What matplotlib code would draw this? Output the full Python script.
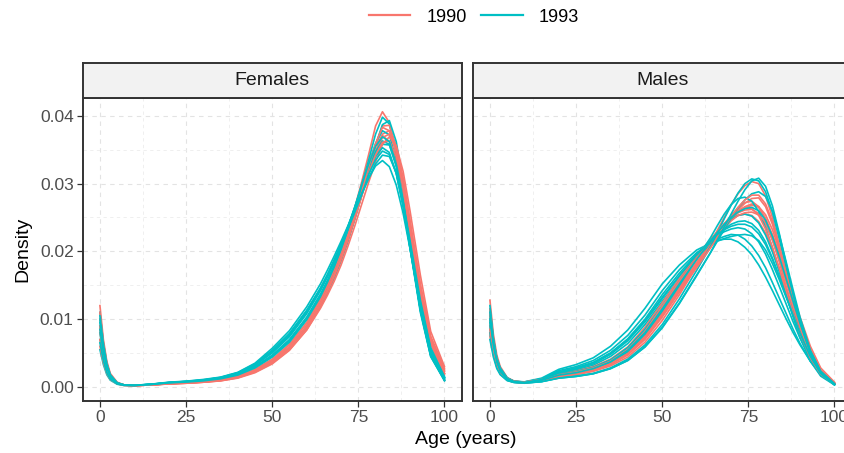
import numpy as np
import matplotlib
matplotlib.use("Agg")
import matplotlib.pyplot as plt
from matplotlib.lines import Line2D

plt.rcParams['font.family'] = ['Liberation Sans', 'DejaVu Sans']

# age grid (years) on which each density curve was read
ages = [0, 1, 2, 3, 5, 7, 10, 15, 20, 25, 30, 35, 40, 45, 50, 55, 60, 64, 66, 68,
        70, 72, 74, 76, 78, 80, 82, 84, 86, 88, 90, 93, 96, 100]

years = ['1990', '1993']
sexes = ['Females', 'Males']
year_colors = {'1990': '#F8766D', '1993': '#00BFC4'}

# densities in units of 0.001
fem_1990 = [
    [12, 7, 3.8, 2.0, 0.7, 0.3, 0.2, 0.3, 0.45, 0.55, 0.7, 0.95, 1.4, 2.3, 3.7, 5.8, 9.0, 12.5, 14.6, 17.0, 19.8, 23.0, 26.5, 30.3, 34.3, 38.5, 40.6, 39.0, 34.5, 28.0, 21.0, 11.5, 4.8, 1.0],
    [8, 4.8, 2.6, 1.4, 0.5, 0.25, 0.2, 0.3, 0.45, 0.55, 0.7, 0.9, 1.3, 2.1, 3.4, 5.4, 8.4, 11.8, 13.8, 16.0, 18.6, 21.5, 24.8, 28.3, 32.0, 35.6, 38.5, 38.6, 35.5, 30.0, 23.5, 14.0, 6.5, 2.0],
    [10, 6, 3.2, 1.7, 0.6, 0.3, 0.2, 0.3, 0.5, 0.6, 0.75, 1.0, 1.45, 2.3, 3.6, 5.6, 8.6, 12.0, 14.0, 16.3, 18.8, 21.7, 24.9, 28.2, 31.6, 34.8, 37.3, 37.8, 35.5, 30.8, 24.5, 15.0, 7.2, 2.5],
    [7, 4.2, 2.3, 1.3, 0.5, 0.25, 0.2, 0.3, 0.5, 0.6, 0.75, 1.0, 1.5, 2.4, 3.8, 5.9, 9.0, 12.4, 14.4, 16.6, 19.1, 21.9, 25.0, 28.3, 31.5, 34.5, 36.8, 37.3, 35.0, 30.5, 24.5, 15.2, 7.5, 2.7],
    [9, 5.4, 2.9, 1.6, 0.55, 0.28, 0.22, 0.32, 0.5, 0.6, 0.78, 1.05, 1.55, 2.5, 4.0, 6.2, 9.4, 12.9, 15.0, 17.4, 20.0, 23.0, 26.2, 29.6, 32.8, 35.6, 37.1, 36.2, 33.0, 28.0, 22.0, 13.5, 6.5, 2.0],
    [6, 3.6, 2.0, 1.1, 0.45, 0.22, 0.2, 0.3, 0.45, 0.55, 0.7, 0.9, 1.35, 2.2, 3.5, 5.5, 8.4, 11.6, 13.5, 15.6, 18.0, 20.8, 23.8, 27.0, 30.2, 33.2, 35.8, 36.9, 35.6, 31.8, 26.0, 16.5, 8.2, 3.0],
    [11, 6.5, 3.5, 1.8, 0.6, 0.3, 0.22, 0.32, 0.5, 0.62, 0.8, 1.1, 1.6, 2.6, 4.1, 6.3, 9.5, 13.0, 15.0, 17.3, 19.8, 22.6, 25.6, 28.7, 31.6, 34.2, 36.1, 36.3, 34.0, 29.6, 23.6, 14.6, 7.0, 2.3],
    [8.5, 5.0, 2.7, 1.5, 0.55, 0.27, 0.2, 0.3, 0.48, 0.58, 0.74, 1.0, 1.45, 2.35, 3.75, 5.8, 8.9, 12.3, 14.3, 16.6, 19.2, 22.1, 25.4, 28.9, 32.5, 35.9, 38.3, 37.8, 34.6, 29.5, 23.0, 13.8, 6.3, 1.8],
]

fem_1993 = [
    [11, 6.5, 3.5, 1.8, 0.6, 0.3, 0.22, 0.35, 0.55, 0.65, 0.8, 1.05, 1.5, 2.4, 3.8, 5.8, 8.9, 12.3, 14.4, 16.8, 19.5, 22.6, 26.0, 29.7, 33.5, 37.3, 39.8, 38.8, 34.5, 28.0, 21.0, 11.3, 4.5, 0.9],
    [9, 5.4, 2.9, 1.55, 0.55, 0.28, 0.22, 0.35, 0.55, 0.65, 0.8, 1.05, 1.5, 2.4, 3.8, 5.8, 8.8, 12.0, 14.0, 16.2, 18.7, 21.6, 24.8, 28.3, 32.0, 35.7, 38.7, 39.3, 36.2, 30.0, 22.5, 12.0, 4.8, 1.0],
    [7, 4.2, 2.3, 1.3, 0.5, 0.26, 0.22, 0.38, 0.6, 0.75, 0.95, 1.3, 1.9, 3.0, 4.7, 7.0, 10.3, 13.7, 15.7, 18.0, 20.6, 23.5, 26.6, 29.9, 33.0, 35.9, 37.8, 37.2, 33.5, 27.5, 20.5, 11.0, 4.5, 1.0],
    [10, 6, 3.2, 1.7, 0.6, 0.3, 0.24, 0.4, 0.65, 0.8, 1.0, 1.35, 2.0, 3.2, 5.0, 7.4, 10.8, 14.2, 16.2, 18.5, 21.0, 23.7, 26.6, 29.5, 32.3, 34.7, 36.3, 35.8, 32.5, 27.0, 20.5, 11.4, 4.8, 1.1],
    [5.5, 3.3, 1.8, 1.0, 0.4, 0.22, 0.2, 0.35, 0.6, 0.72, 0.9, 1.2, 1.8, 2.9, 4.5, 6.8, 10.0, 13.4, 15.4, 17.6, 20.0, 22.7, 25.6, 28.6, 31.4, 34.0, 35.8, 35.7, 32.8, 27.6, 21.2, 12.0, 5.2, 1.3],
    [8, 4.8, 2.6, 1.4, 0.5, 0.27, 0.22, 0.38, 0.62, 0.78, 1.0, 1.35, 2.0, 3.2, 5.2, 7.6, 11.0, 14.4, 16.4, 18.6, 21.0, 23.6, 26.4, 29.2, 31.8, 34.0, 35.3, 34.6, 31.5, 26.5, 20.5, 11.8, 5.2, 1.3],
    [9.5, 5.7, 3.1, 1.65, 0.58, 0.3, 0.24, 0.4, 0.66, 0.82, 1.05, 1.4, 2.1, 3.4, 5.4, 7.9, 11.3, 14.6, 16.6, 18.8, 21.1, 23.6, 26.2, 28.9, 31.4, 33.5, 34.8, 34.3, 31.5, 26.8, 21.0, 12.3, 5.5, 1.4],
    [6.5, 3.9, 2.1, 1.15, 0.45, 0.25, 0.22, 0.38, 0.64, 0.8, 1.0, 1.38, 2.05, 3.3, 5.3, 7.8, 11.2, 14.5, 16.4, 18.5, 20.8, 23.3, 25.8, 28.4, 30.8, 32.9, 34.2, 34.0, 31.6, 27.2, 21.6, 12.8, 5.8, 1.5],
    [8.5, 5.1, 2.8, 1.5, 0.55, 0.28, 0.24, 0.42, 0.7, 0.85, 1.1, 1.45, 2.15, 3.5, 5.7, 8.3, 11.8, 15.2, 17.2, 19.3, 21.5, 23.8, 26.2, 28.6, 30.8, 32.6, 33.4, 32.5, 29.8, 25.6, 20.4, 12.3, 5.6, 1.4],
    [10.5, 6.3, 3.4, 1.8, 0.6, 0.3, 0.23, 0.38, 0.6, 0.72, 0.9, 1.2, 1.75, 2.8, 4.4, 6.6, 9.9, 13.3, 15.4, 17.7, 20.3, 23.2, 26.4, 29.8, 32.9, 35.5, 36.9, 36.2, 32.8, 27.3, 20.8, 11.4, 4.7, 1.0],
]

male_1990 = [
    [12.8, 7.8, 4.7, 3.0, 1.4, 0.85, 0.65, 0.9, 1.5, 1.8, 2.3, 3.1, 4.4, 6.6, 9.8, 13.6, 17.8, 21.2, 23.1, 25.0, 26.9, 28.5, 29.7, 30.3, 30.0, 28.2, 25.0, 20.8, 16.4, 12.2, 8.5, 4.2, 1.7, 0.4],
    [9, 5.6, 3.4, 2.2, 1.1, 0.75, 0.62, 0.95, 1.65, 2.0, 2.6, 3.5, 5.0, 7.5, 11.0, 14.8, 18.4, 21.2, 22.6, 24.0, 25.3, 26.4, 27.2, 27.4, 26.6, 24.6, 21.8, 18.4, 14.8, 11.3, 8.1, 4.3, 1.8, 0.4],
    [11.5, 7.0, 4.2, 2.7, 1.3, 0.8, 0.65, 0.95, 1.6, 1.95, 2.5, 3.4, 4.8, 7.2, 10.5, 14.2, 17.8, 20.6, 22.0, 23.5, 24.9, 26.1, 27.1, 27.8, 27.9, 26.6, 24.0, 20.5, 16.6, 12.8, 9.2, 5.0, 2.2, 0.5],
    [8, 5.0, 3.1, 2.0, 1.05, 0.72, 0.62, 0.98, 1.75, 2.15, 2.8, 3.8, 5.5, 8.2, 11.8, 15.4, 18.8, 21.5, 22.8, 24.0, 25.0, 25.7, 26.1, 26.2, 25.6, 24.0, 21.6, 18.7, 15.5, 12.3, 9.1, 5.1, 2.3, 0.6],
    [10, 6.2, 3.8, 2.4, 1.2, 0.8, 0.68, 1.0, 1.7, 2.05, 2.6, 3.5, 5.0, 7.5, 10.9, 14.6, 18.2, 20.9, 22.2, 23.5, 24.7, 25.7, 26.4, 26.8, 26.6, 25.4, 23.2, 20.2, 16.8, 13.4, 9.9, 5.6, 2.5, 0.6],
    [11, 6.8, 4.1, 2.6, 1.3, 0.85, 0.72, 1.1, 1.9, 2.35, 3.0, 4.1, 5.9, 8.8, 12.4, 16.0, 19.3, 21.8, 22.9, 23.9, 24.7, 25.3, 25.5, 25.3, 24.4, 22.7, 20.3, 17.5, 14.5, 11.5, 8.6, 4.9, 2.2, 0.5],
    [7.5, 4.7, 2.9, 1.9, 1.0, 0.7, 0.6, 0.92, 1.6, 1.95, 2.5, 3.4, 4.9, 7.4, 10.8, 14.5, 18.0, 20.8, 22.2, 23.6, 24.9, 25.9, 26.6, 27.0, 26.5, 24.9, 22.4, 19.2, 15.8, 12.4, 9.0, 4.9, 2.1, 0.5],
    [9.5, 5.9, 3.6, 2.3, 1.15, 0.78, 0.66, 0.98, 1.65, 2.0, 2.55, 3.45, 4.9, 7.3, 10.6, 14.3, 18.0, 20.8, 22.1, 23.4, 24.5, 25.3, 25.7, 25.8, 25.4, 24.3, 22.4, 19.8, 16.8, 13.6, 10.3, 6.0, 2.8, 0.7],
    [10.8, 6.6, 4.0, 2.5, 1.25, 0.82, 0.7, 1.05, 1.8, 2.2, 2.8, 3.8, 5.5, 8.2, 11.9, 15.6, 19.0, 21.6, 22.9, 24.1, 25.2, 26.0, 26.5, 26.3, 25.3, 23.3, 20.6, 17.4, 14.1, 10.9, 7.9, 4.3, 1.9, 0.4],
    [8.5, 5.3, 3.2, 2.1, 1.05, 0.72, 0.6, 0.9, 1.55, 1.9, 2.4, 3.3, 4.7, 7.0, 10.3, 14.0, 17.6, 20.5, 22.0, 23.6, 25.1, 26.5, 27.6, 28.3, 28.3, 27.0, 24.4, 20.8, 16.8, 12.8, 9.0, 4.7, 2.0, 0.5],
]

male_1993 = [
    [11.5, 7.0, 4.2, 2.7, 1.3, 0.85, 0.75, 1.3, 2.6, 3.3, 4.3, 6.0, 8.4, 11.6, 15.2, 18.0, 20.2, 21.2, 21.6, 21.8, 21.8, 21.4, 20.6, 19.5, 18.0, 16.2, 14.2, 12.1, 10.0, 8.0, 6.2, 3.8, 1.9, 0.5],
    [10, 6.2, 3.7, 2.4, 1.2, 0.8, 0.72, 1.2, 2.4, 3.0, 3.9, 5.4, 7.6, 10.6, 14.2, 17.3, 19.8, 21.2, 21.8, 22.2, 22.5, 22.4, 21.8, 20.8, 19.4, 17.6, 15.4, 13.1, 10.8, 8.5, 6.4, 3.8, 1.8, 0.4],
    [8.5, 5.3, 3.2, 2.1, 1.05, 0.72, 0.65, 1.1, 2.2, 2.8, 3.6, 5.0, 7.0, 9.8, 13.2, 16.4, 19.2, 20.9, 21.5, 21.9, 22.2, 22.4, 22.5, 22.3, 21.6, 20.2, 18.2, 15.8, 13.2, 10.6, 8.1, 4.8, 2.3, 0.5],
    [11, 6.7, 4.0, 2.6, 1.25, 0.82, 0.72, 1.15, 2.2, 2.8, 3.6, 5.0, 7.1, 10.0, 13.6, 16.8, 19.6, 21.5, 22.3, 22.9, 23.3, 23.5, 23.3, 22.6, 21.4, 19.6, 17.3, 14.8, 12.2, 9.6, 7.2, 4.2, 2.0, 0.4],
    [9, 5.6, 3.4, 2.2, 1.1, 0.75, 0.65, 1.05, 2.0, 2.5, 3.2, 4.5, 6.4, 9.2, 12.6, 16.0, 19.2, 21.5, 22.5, 23.3, 24.0, 24.4, 24.5, 24.1, 23.1, 21.4, 19.0, 16.3, 13.4, 10.6, 7.9, 4.5, 2.0, 0.4],
    [12, 7.2, 4.3, 2.8, 1.35, 0.85, 0.7, 1.05, 1.9, 2.3, 2.9, 4.0, 5.8, 8.5, 12.0, 15.6, 19.0, 21.6, 22.8, 23.9, 24.8, 25.3, 25.5, 25.2, 24.2, 22.4, 19.9, 17.0, 14.0, 11.0, 8.1, 4.4, 1.9, 0.4],
    [10.5, 6.4, 3.9, 2.5, 1.2, 0.78, 0.64, 0.95, 1.7, 2.05, 2.6, 3.6, 5.2, 7.8, 11.2, 15.0, 18.9, 22.0, 23.8, 25.5, 26.9, 27.8, 28.0, 27.4, 25.9, 23.5, 20.5, 17.1, 13.6, 10.3, 7.3, 3.8, 1.6, 0.3],
    [9.5, 5.8, 3.5, 2.2, 1.05, 0.7, 0.58, 0.8, 1.35, 1.6, 2.0, 2.8, 4.1, 6.2, 9.2, 13.0, 17.2, 20.7, 22.7, 24.8, 26.8, 28.6, 30.0, 30.7, 30.4, 28.8, 25.8, 21.8, 17.4, 13.2, 9.3, 4.8, 2.0, 0.3],
    [8, 4.9, 3.0, 1.9, 0.95, 0.65, 0.55, 0.78, 1.3, 1.55, 1.95, 2.7, 3.9, 5.9, 8.8, 12.4, 16.5, 19.8, 21.5, 23.2, 24.9, 26.4, 27.6, 28.5, 28.8, 28.1, 25.9, 22.4, 18.4, 14.3, 10.3, 5.4, 2.3, 0.4],
    [10, 6.1, 3.7, 2.3, 1.1, 0.72, 0.58, 0.78, 1.3, 1.55, 1.95, 2.7, 3.9, 5.9, 8.7, 12.3, 16.4, 19.8, 21.7, 23.6, 25.5, 27.4, 29.1, 30.4, 30.8, 29.6, 26.7, 22.6, 18.1, 13.7, 9.6, 4.9, 2.0, 0.3],
    [11, 6.7, 4.0, 2.6, 1.25, 0.8, 0.66, 0.98, 1.75, 2.1, 2.7, 3.7, 5.4, 8.0, 11.5, 15.2, 18.8, 21.5, 22.8, 24.0, 25.0, 25.8, 26.3, 26.5, 26.0, 24.6, 22.2, 19.2, 15.9, 12.6, 9.4, 5.2, 2.3, 0.5],
    [7, 4.4, 2.7, 1.8, 0.95, 0.68, 0.62, 1.1, 2.1, 2.65, 3.4, 4.8, 6.8, 9.6, 13.0, 16.4, 19.5, 21.6, 22.5, 23.2, 23.7, 24.0, 24.0, 23.6, 22.6, 21.0, 18.8, 16.2, 13.4, 10.6, 7.9, 4.5, 2.0, 0.4],
]

curves = {
    'Females': {'1990': fem_1990, '1993': fem_1993},
    'Males': {'1990': male_1990, '1993': male_1993},
}

x_ticks = [0, 25, 50, 75, 100]
y_ticks = [0.00, 0.01, 0.02, 0.03, 0.04]

W, H = 844, 453
fig = plt.figure(figsize=(W / 100, H / 100), dpi=100)

# panel boxes in pixels (left, right); the Males panel runs past the right edge
panel_px = {'Females': (82.7, 461.7), 'Males': (472.7, 851.7)}
p_top, p_bot, s_top = 98, 400.7, 63

all_vals = [v for s in sexes for y in years for c in curves[s][y] for v in c]
ymax = max(all_vals) / 1000
pad = 0.05 * ymax

dark = '#333333'
for si, sex in enumerate(sexes):
    l, r = panel_px[sex]
    ax = fig.add_axes([l / W, 1 - p_bot / H, (r - l) / W, (p_bot - p_top) / H])
    n = max(len(curves[sex][y]) for y in years)
    # interleave the two years so neither colour sits entirely on top
    for i in range(n):
        for yr in years:
            grp = curves[sex][yr]
            if i < len(grp):
                ax.plot(ages, np.array(grp[i]) / 1000, color=year_colors[yr], lw=1.2)
    ax.set_xlim(-5, 105)
    ax.set_ylim(-pad, ymax + pad)
    ax.set_xticks(x_ticks)
    ax.set_xticks([12.5, 37.5, 62.5, 87.5], minor=True)
    ax.set_yticks(y_ticks)
    ax.set_yticks([0.005, 0.015, 0.025, 0.035], minor=True)
    ax.grid(which='major', color='#E3E3E3', ls=(0, (4, 4)), lw=0.8)
    ax.grid(which='minor', color='#EDEDED', ls=(0, (4, 4)), lw=0.6)
    ax.set_axisbelow(True)
    ax.tick_params(which='major', length=4, width=0.9, color=dark, labelsize=12.5,
                   labelcolor='#4D4D4D', pad=2.5)
    ax.tick_params(which='minor', length=0)
    if si == 0:
        ax.set_yticklabels(['%.2f' % v for v in y_ticks])
        ax.set_ylabel('Density', fontsize=14, labelpad=6)
    else:
        ax.set_yticklabels([])
        ax.tick_params(axis='y', length=0)
    for sp in ax.spines.values():
        sp.set_color(dark)
        sp.set_linewidth(1.4)

    # facet strip
    sax = fig.add_axes([l / W, 1 - p_top / H, (r - l) / W, (p_top - s_top) / H])
    sax.set_facecolor('#F2F2F2')
    sax.set_xticks([])
    sax.set_yticks([])
    for sp in sax.spines.values():
        sp.set_color(dark)
        sp.set_linewidth(1.4)
    sax.text(0.5, 0.5, sex, ha='center', va='center', fontsize=14, color='#1A1A1A',
             transform=sax.transAxes)

fig.text(466 / W, 1 - 440 / H, 'Age (years)', ha='center', va='center', fontsize=14)

handles = [Line2D([], [], color=year_colors[y], lw=1.6) for y in years]
fig.legend(handles, years, loc='center', bbox_to_anchor=(474 / W, 1 - 17 / H), ncol=2,
           frameon=False, fontsize=13, handlelength=2.3, handletextpad=0.9,
           columnspacing=0.8)

fig.savefig('out.png', dpi=100)
